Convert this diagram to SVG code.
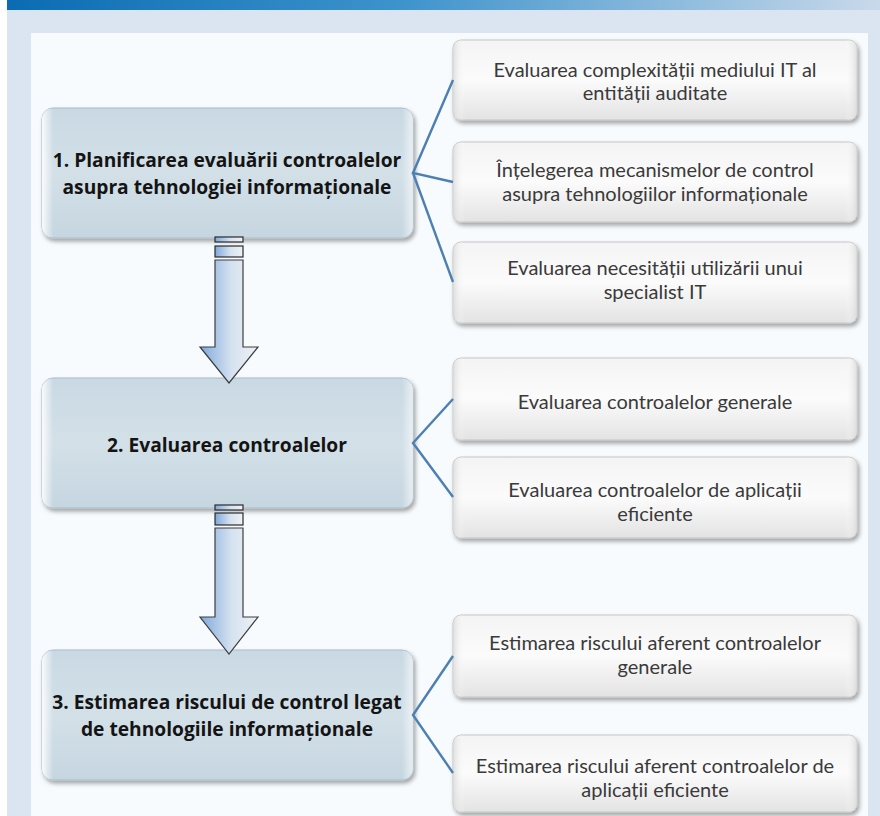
<svg xmlns="http://www.w3.org/2000/svg" width="880" height="816" viewBox="0 0 880 816">
<defs>
<linearGradient id="banner" x1="0" y1="0" x2="1" y2="0">
<stop offset="0" stop-color="#0b6cb3"/>
<stop offset="0.45" stop-color="#3d93cc"/>
<stop offset="1" stop-color="#c9d9ea"/>
</linearGradient>
<linearGradient id="leftFill" x1="0" y1="0" x2="0" y2="1">
<stop offset="0" stop-color="#c9d9e3"/>
<stop offset="0.5" stop-color="#d3e0e8"/>
<stop offset="1" stop-color="#c6d6e0"/>
</linearGradient>
<linearGradient id="leftEdge" x1="0" y1="0" x2="1" y2="0">
<stop offset="0" stop-color="#ffffff" stop-opacity="0.9"/>
<stop offset="0.03" stop-color="#ffffff" stop-opacity="0"/>
<stop offset="0.97" stop-color="#ffffff" stop-opacity="0"/>
<stop offset="1" stop-color="#ffffff" stop-opacity="0.6"/>
</linearGradient>
<linearGradient id="rightFill" x1="0" y1="0" x2="0" y2="1">
<stop offset="0" stop-color="#f4f4f4"/>
<stop offset="0.5" stop-color="#fbfbfb"/>
<stop offset="1" stop-color="#e3e3e3"/>
</linearGradient>
<linearGradient id="rightEdge" x1="0" y1="0" x2="1" y2="0">
<stop offset="0" stop-color="#d8d8d8" stop-opacity="0.8"/>
<stop offset="0.03" stop-color="#ffffff" stop-opacity="0"/>
<stop offset="0.97" stop-color="#ffffff" stop-opacity="0"/>
<stop offset="1" stop-color="#d8d8d8" stop-opacity="0.8"/>
</linearGradient>
<linearGradient id="arrowFill" x1="0" y1="0" x2="1" y2="0">
<stop offset="0" stop-color="#7fa9dc"/>
<stop offset="0.55" stop-color="#d6e2f0"/>
<stop offset="1" stop-color="#eef1f5"/>
</linearGradient>
<filter id="shadow" x="-10%" y="-10%" width="125%" height="130%">
<feDropShadow dx="2" dy="3" stdDeviation="2" flood-color="#000" flood-opacity="0.35"/>
</filter>
</defs>
<style>
.lbox{fill:url(#leftFill);stroke:#a9bccb;stroke-width:1;filter:url(#shadow)}
.lhl{fill:url(#leftEdge);stroke:none}
.rbox{fill:url(#rightFill);stroke:#c4c4c4;stroke-width:1;filter:url(#shadow)}
.rhl{fill:url(#rightEdge);stroke:none}
.ltxt{font-family:"Open Sans","Liberation Sans",sans-serif;font-weight:bold;font-size:19.2px;fill:#141414;text-anchor:middle}
.rtxt{font-family:"Lato","Liberation Sans",sans-serif;font-size:20px;fill:#3a3a3a;text-anchor:middle}
.conn{fill:none;stroke:#4c80b3;stroke-width:2.4}
.arrow{fill:url(#arrowFill);stroke:#3c3c3c;stroke-width:1.2}
.bar{fill:url(#arrowFill);stroke:#2a2a2a;stroke-width:1.2}
</style>
<rect x="0" y="0" width="880" height="816" fill="#dbe5f1"/>
<rect x="0" y="0" width="7" height="816" fill="#ffffff"/>
<rect x="7" y="0" width="873" height="10" fill="url(#banner)"/>
<rect x="31" y="33" width="837" height="783" fill="#f8fbfd"/>

<g id="step1">
<rect class="lbox" x="42" y="108" width="371" height="130" rx="11"/>
<rect class="lhl" x="42" y="108" width="371" height="130" rx="11"/>
<text class="ltxt" x="227" y="167">1. Planificarea evaluării controalelor</text>
<text class="ltxt" x="227" y="194">asupra tehnologiei informaționale</text>
</g>
<g id="step2">
<rect class="lbox" x="42" y="378" width="371" height="130" rx="11"/>
<rect class="lhl" x="42" y="378" width="371" height="130" rx="11"/>
<text class="ltxt" x="227" y="452">2. Evaluarea controalelor</text>
</g>
<g id="step3">
<rect class="lbox" x="42" y="650" width="371" height="130" rx="11"/>
<rect class="lhl" x="42" y="650" width="371" height="130" rx="11"/>
<text class="ltxt" x="227" y="709">3. Estimarea riscului de control legat</text>
<text class="ltxt" x="227" y="736">de tehnologiile informaționale</text>
</g>

<g id="sub1a">
<rect class="rbox" x="453" y="40" width="404" height="80" rx="8"/>
<rect class="rhl" x="453" y="40" width="404" height="80" rx="8"/>
<text class="rtxt" x="655" y="77">Evaluarea complexității mediului IT al</text>
<text class="rtxt" x="655" y="100">entității auditate</text>
</g>
<g id="sub1b">
<rect class="rbox" x="453" y="142" width="404" height="80" rx="8"/>
<rect class="rhl" x="453" y="142" width="404" height="80" rx="8"/>
<text class="rtxt" x="655" y="177">Înțelegerea mecanismelor de control</text>
<text class="rtxt" x="655" y="201">asupra tehnologiilor informaționale</text>
</g>
<g id="sub1c">
<rect class="rbox" x="453" y="242" width="404" height="81" rx="8"/>
<rect class="rhl" x="453" y="242" width="404" height="81" rx="8"/>
<text class="rtxt" x="655" y="275">Evaluarea necesității utilizării unui</text>
<text class="rtxt" x="655" y="299">specialist IT</text>
</g>
<g id="sub2a">
<rect class="rbox" x="453" y="358" width="404" height="82" rx="8"/>
<rect class="rhl" x="453" y="358" width="404" height="82" rx="8"/>
<text class="rtxt" x="655" y="409">Evaluarea controalelor generale</text>
</g>
<g id="sub2b">
<rect class="rbox" x="453" y="457" width="404" height="81" rx="8"/>
<rect class="rhl" x="453" y="457" width="404" height="81" rx="8"/>
<text class="rtxt" x="655" y="497">Evaluarea controalelor de aplicații</text>
<text class="rtxt" x="655" y="521">eficiente</text>
</g>
<g id="sub3a">
<rect class="rbox" x="453" y="615" width="404" height="82" rx="8"/>
<rect class="rhl" x="453" y="615" width="404" height="82" rx="8"/>
<text class="rtxt" x="655" y="650">Estimarea riscului aferent controalelor</text>
<text class="rtxt" x="655" y="674">generale</text>
</g>
<g id="sub3b">
<rect class="rbox" x="453" y="735" width="404" height="77" rx="8"/>
<rect class="rhl" x="453" y="735" width="404" height="77" rx="8"/>
<text class="rtxt" x="655" y="773">Estimarea riscului aferent controalelor de</text>
<text class="rtxt" x="655" y="797">aplicații eficiente</text>
</g>

<g id="connectors">
<polyline class="conn" points="453,80 413,173 453,182"/>
<line class="conn" x1="413" y1="173" x2="453" y2="282"/>
<polyline class="conn" points="453,399 413,443 453,497"/>
<polyline class="conn" points="453,656 413,715 453,773"/>
<g id="arrow1">
<rect class="bar" x="215" y="237" width="28" height="5"/>
<rect class="bar" x="215" y="246" width="28" height="11"/>
<path class="arrow" d="M215,260 L243,260 L243,347 L258,347 L229,383 L200,347 L215,347 Z"/>
</g>
<g id="arrow2">
<rect class="bar" x="215" y="505" width="28" height="5"/>
<rect class="bar" x="215" y="513" width="28" height="12"/>
<path class="arrow" d="M215,528 L243,528 L243,617 L258,617 L229,654 L200,617 L215,617 Z"/>
</g>
</g>
</svg>
